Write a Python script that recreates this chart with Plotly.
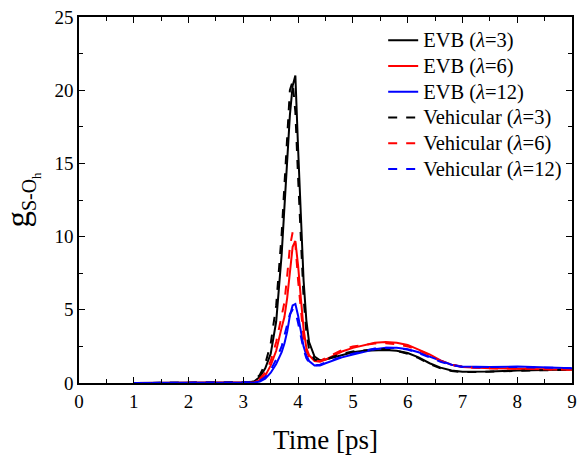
import plotly.graph_objects as go

time_ps = [1.0, 2.0, 3.0, 3.1, 3.2, 3.3, 3.4, 3.5, 3.6, 3.7, 3.75, 3.8, 3.85, 3.9, 3.95,
           4.0, 4.05, 4.1, 4.15, 4.2, 4.3, 4.4, 4.5, 4.6, 4.8, 5.0, 5.2, 5.4, 5.6, 5.8,
           6.0, 6.2, 6.4, 6.6, 6.8, 7.0, 7.2, 7.5, 8.0, 8.5, 9.0]

evb_3 = [0, 0, 0, 0.03, 0.12, 0.4, 1.0, 2.0, 4.2, 8.8, 12.0, 15.2, 18.3, 20.3, 21.0,
         16.0, 11.5, 7.0, 4.3, 2.8, 1.8, 1.55, 1.6, 1.7, 1.95, 2.1, 2.2, 2.25, 2.25, 2.2,
         2.05, 1.75, 1.35, 1.05, 0.85, 0.77, 0.76, 0.78, 0.85, 0.9, 0.93]
evb_6 = [0, 0, 0, 0.01, 0.05, 0.2, 0.5, 1.2, 2.2, 3.8, 4.5, 5.8, 7.8, 9.3, 9.7,
         8.0, 5.8, 3.7, 2.4, 1.9, 1.5, 1.45, 1.6, 1.8, 2.15, 2.4, 2.6, 2.75, 2.8, 2.75,
         2.6, 2.3, 1.95, 1.55, 1.25, 1.1, 1.05, 1.0, 0.98, 0.95, 0.9]
evb_12 = [0, 0, 0, 0.01, 0.03, 0.1, 0.3, 0.7, 1.3, 2.1, 2.7, 3.5, 4.6, 5.3, 5.4,
          4.6, 3.5, 2.5, 1.9, 1.5, 1.2, 1.2, 1.35, 1.5, 1.75, 1.95, 2.15, 2.3, 2.4, 2.4,
          2.3, 2.1, 1.8, 1.5, 1.25, 1.12, 1.1, 1.1, 1.12, 1.08, 1.0]
veh_3 = [0, 0, 0, 0.05, 0.18, 0.55, 1.3, 2.7, 5.3, 10.2, 13.5, 17.0, 20.0, 20.6, 18.5,
         14.0, 9.5, 5.8, 3.5, 2.3, 1.6, 1.5, 1.6, 1.75, 2.0, 2.15, 2.25, 2.3, 2.3, 2.2,
         2.0, 1.7, 1.3, 1.0, 0.82, 0.75, 0.75, 0.78, 0.84, 0.88, 0.92]
veh_6 = [0, 0, 0, 0.02, 0.08, 0.3, 0.7, 1.5, 2.8, 4.5, 5.5, 7.3, 9.3, 10.3, 9.5,
         7.0, 4.8, 3.1, 2.2, 1.8, 1.5, 1.5, 1.7, 1.9, 2.25, 2.5, 2.6, 2.7, 2.72, 2.65,
         2.5, 2.25, 1.9, 1.5, 1.25, 1.1, 1.05, 1.0, 0.98, 0.95, 0.9]
veh_12 = [0, 0, 0, 0.02, 0.05, 0.15, 0.4, 0.9, 1.6, 2.5, 3.2, 4.0, 4.7, 5.0, 4.9,
          4.1, 3.1, 2.3, 1.7, 1.4, 1.2, 1.25, 1.4, 1.55, 1.8, 2.0, 2.2, 2.35, 2.4, 2.38,
          2.28, 2.05, 1.75, 1.45, 1.22, 1.1, 1.08, 1.1, 1.1, 1.05, 1.0]

legend_names = ["EVB (<i>λ</i>=3)", "EVB (<i>λ</i>=6)", "EVB (<i>λ</i>=12)",
                "Vehicular (<i>λ</i>=3)", "Vehicular (<i>λ</i>=6)", "Vehicular (<i>λ</i>=12)"]
values = [evb_3, evb_6, evb_12, veh_3, veh_6, veh_12]
colors = ["black", "red", "blue", "black", "red", "blue"]
dashes = ["solid", "solid", "solid", "dash", "dash", "dash"]

fig = go.Figure()
for name, vals, color, dash in zip(legend_names, values, colors, dashes):
    fig.add_trace(go.Scatter(x=time_ps, y=vals, mode="lines",
                             name=f"<span style='font-size:20.5px'>{name}</span>",
                             line=dict(color=color, width=2, dash=dash)))

font_family = "Liberation Serif"
axis_common = dict(
    showline=True, linecolor="black", linewidth=1.5, mirror="ticks",
    ticks="inside", ticklen=6, tickwidth=1.2, tickcolor="black",
    showgrid=False, zeroline=False,
    tickfont=dict(family=font_family, size=19, color="black"),
)

y_title = ("g<sub><span style='font-size:20px'>S-O</span>"
           "<sub><span style='font-size:13px'>h</span></sub></sub>"
           "\u00a0\u00a0\u00a0\u00a0\u00a0\u00a0")

fig.update_xaxes(range=[0, 9], dtick=1, tick0=0,
                 minor=dict(dtick=0.5, ticks="inside", ticklen=4, tickcolor="black"),
                 title=dict(text="Time [ps]", font=dict(family=font_family, size=27, color="black"),
                            standoff=20),
                 **axis_common)
fig.update_yaxes(range=[0, 25], dtick=5, tick0=0,
                 minor=dict(dtick=2.5, ticks="inside", ticklen=4, tickcolor="black"),
                 title=dict(text=y_title,
                            font=dict(family=font_family, size=33, color="black"), standoff=19),
                 **axis_common)

fig.update_layout(
    width=584, height=457,
    margin=dict(l=79, r=7, t=15, b=73),
    paper_bgcolor="white", plot_bgcolor="white",
    font=dict(family=font_family, color="black"),
    legend=dict(x=0.617, y=0.985, xanchor="left", yanchor="top",
                bgcolor="rgba(0,0,0,0)", borderwidth=0,
                font=dict(family=font_family, size=17.5, color="black"),
                tracegroupgap=0),
    showlegend=True,
)

fig.write_html("out.html", config={"displayModeBar": False},
               post_script="document.body.style.margin='0px';")
